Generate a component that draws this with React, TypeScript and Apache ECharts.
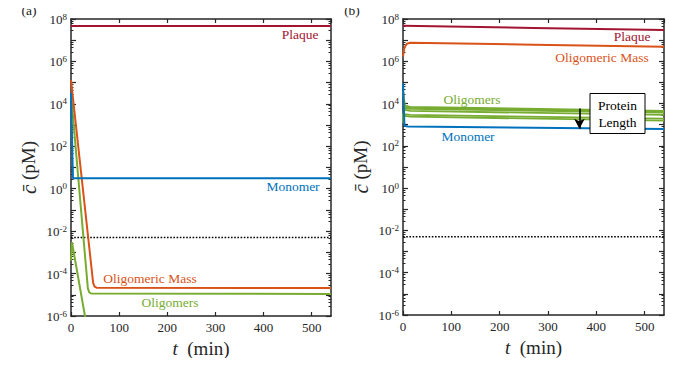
import React, { useEffect, useRef } from "react";
import * as echarts from "echarts";

// ---------- data (t in min, c in pM) ----------
// Panel (a)
const aPlaque: [number, number][] = [[0, 4.7e7], [540, 4.7e7]];
const aMonomer: [number, number][] = [[0, 3.2e4], [4, 3.1], [540, 3.1]];
const aOligoMass: [number, number][] = [[0, 1.3e5], [46, 3.6e-5], [49, 2.4e-5], [53, 2.15e-5], [540, 2.1e-5]];
const aOligomers1: [number, number][] = [[0, 3e4], [35, 2e-5], [38, 1.3e-5], [42, 1.15e-5], [540, 1.1e-5]];
const aOligomers2: [number, number][] = [[0, 4e-4], [2, 3e-3], [29, 1e-6], [33, 3e-7]];
const aThreshold: [number, number][] = [[0, 5e-3], [540, 5e-3]];

// Panel (b)
const bPlaque: [number, number][] = [[0, 4.8e7], [270, 3.8e7], [540, 3e7]];
const bOligoMass: [number, number][] = [[0, 1.7e6], [3, 4.5e6], [8, 6.8e6], [15, 7.5e6], [270, 6.1e6], [540, 4.9e6]];
const bMonomer: [number, number][] = [[0, 9e4], [3, 900], [10, 820], [270, 720], [540, 620]];
const bOligomers: [number, number][][] = [
  [[0, 4e4], [4, 8e3], [15, 7e3], [540, 4.5e3]],
  [[0, 2.5e3], [3, 7e3], [15, 6.3e3], [540, 4.1e3]],
  [[0, 2e3], [3, 6e3], [15, 5.6e3], [540, 3.7e3]],
  [[0, 1.8e3], [3, 5e3], [15, 4.5e3], [540, 2.9e3]],
  [[0, 1.5e3], [3, 3.2e3], [15, 2.9e3], [540, 1.95e3]],
  [[0, 1.2e3], [3, 2.6e3], [15, 2.4e3], [540, 1.55e3]],
];
const bThreshold: [number, number][] = [[0, 5e-3], [540, 5e-3]];
const arrowT = 365;
const arrowFrom = 5800;
const arrowTo = 640;

const xTicks = [0, 100, 200, 300, 400, 500];
const yMinExp = -6;
const yMaxExp = 8;

// ---------- styles ----------
const BLUE = "#0072BD";
const ORANGE = "#D95319";
const GREEN = "#77AC30";
const RED = "#A2142F";
const AXIS = "#262626";
const SERIF = "Liberation Serif";

export default function App() {
  const ref = useRef<HTMLDivElement>(null);
  useEffect(() => {
    if (!ref.current) return;
    const chart = echarts.init(ref.current, undefined, { renderer: "svg" });

    const grids = [
      { left: 71, right: 346, top: 19, bottom: 50 },
      { left: 403, right: 13, top: 19, bottom: 51 },
    ];

    const logLabel = (v: number) => {
      const e = Math.round(Math.log10(v));
      if (e % 2 !== 0) return "";
      return `{b|10}{s|${e}}`;
    };

    const xAxes: any[] = [];
    const yAxes: any[] = [];
    [0, 1].forEach((g) => {
      xAxes.push({
        type: "value",
        gridIndex: g,
        min: 0,
        max: 540,
        interval: 100,
        position: "bottom",
        name: "{i|t}  (min)",
        nameLocation: "middle",
        nameGap: 21,
        nameTextStyle: {
          fontFamily: SERIF,
          fontSize: 19,
          color: AXIS,
          rich: { i: { fontFamily: SERIF, fontSize: 19, fontStyle: "italic", color: AXIS } },
        },
        axisLine: { show: true, onZero: false, lineStyle: { color: AXIS, width: 1.5 } },
        axisTick: { show: true, inside: true, length: 4, lineStyle: { color: AXIS, width: 1.2 } },
        axisLabel: {
          show: true,
          fontFamily: SERIF,
          fontSize: 13,
          color: AXIS,
          margin: 5,
          showMaxLabel: false,
          formatter: (v: number) => (xTicks.includes(v) ? String(v) : ""),
        },
        splitLine: { show: false },
      });
      xAxes.push({
        type: "value",
        gridIndex: g,
        min: 0,
        max: 540,
        interval: 100,
        position: "top",
        axisLine: { show: true, onZero: false, lineStyle: { color: AXIS, width: 1.5 } },
        axisTick: { show: true, inside: true, length: 4, lineStyle: { color: AXIS, width: 1.2 } },
        axisLabel: { show: false },
        splitLine: { show: false },
      });
      const yCommon = {
        type: "log",
        logBase: 10,
        gridIndex: g,
        min: Math.pow(10, yMinExp),
        max: Math.pow(10, yMaxExp),
        interval: 1,
        splitNumber: 14,
        axisLine: { show: true, onZero: false, lineStyle: { color: AXIS, width: 1.5 } },
        axisTick: { show: true, inside: true, length: 5, lineStyle: { color: AXIS, width: 1.2 } },
        minorTick: { show: true, splitNumber: 5, length: 2.5, lineStyle: { color: AXIS, width: 1 } },
        splitLine: { show: false },
      };
      yAxes.push({
        ...yCommon,
        position: "left",
        name: "{i|c̄} (pM)",
        nameLocation: "middle",
        nameGap: 32,
        nameTextStyle: {
          fontFamily: SERIF,
          fontSize: 19,
          color: AXIS,
          rich: { i: { fontFamily: SERIF, fontSize: 21, fontStyle: "italic", color: AXIS } },
        },
        axisLabel: {
          show: true,
          margin: 4,
          formatter: logLabel,
          rich: {
            b: { fontFamily: SERIF, fontSize: 13, color: AXIS, lineHeight: 14, verticalAlign: "bottom" },
            s: { fontFamily: SERIF, fontSize: 9, color: AXIS, lineHeight: 10, verticalAlign: "top" },
          },
        },
      });
      yAxes.push({
        ...yCommon,
        position: "right",
        axisLabel: { show: false },
      });
    });

    const line = (g: number, data: [number, number][], color: string, extra: any = {}) => ({
      type: "line",
      xAxisIndex: g * 2,
      yAxisIndex: g * 2,
      data,
      showSymbol: false,
      symbol: "none",
      smooth: false,
      clip: true,
      lineStyle: { color, width: 2 },
      z: 3,
      ...extra,
    });
    const dotted = (g: number, data: [number, number][]) =>
      line(g, data, "#000", { lineStyle: { color: "#000", width: 1.6, type: [1.6, 1.6] }, z: 2 });

    const series: any[] = [
      dotted(0, aThreshold),
      line(0, aOligomers2, GREEN),
      line(0, aOligomers1, GREEN),
      line(0, aOligoMass, ORANGE),
      line(0, aMonomer, BLUE),
      line(0, aPlaque, RED),
      dotted(1, bThreshold),
      ...bOligomers.map((d) => line(1, d, GREEN, { lineStyle: { color: GREEN, width: 1.8 } })),
      line(1, bMonomer, BLUE),
      line(1, bOligoMass, ORANGE),
      line(1, bPlaque, RED, {
        markLine: {
          silent: true,
          symbol: ["none", "arrow"],
          symbolSize: [8, 10],
          label: { show: false },
          lineStyle: { color: "#000", width: 1.6, type: "solid" },
          data: [[{ coord: [arrowT, arrowFrom] }, { coord: [arrowT, arrowTo] }]],
          z: 10,
        },
      }),
    ];

    const txt = (x: number, y: number, text: string, color: string, size = 13.5) => ({
      type: "text",
      x,
      y,
      z: 50,
      style: {
        text,
        fill: color,
        fontFamily: SERIF,
        fontSize: size,
        align: "center",
        verticalAlign: "middle",
      },
    });

    chart.setOption({
      animation: false,
      backgroundColor: "#fff",
      grid: grids,
      xAxis: xAxes,
      yAxis: yAxes,
      series,
      graphic: [
        txt(29, 10, "(a)", "#222", 13.5),
        txt(352, 10, "(b)", "#222", 13.5),
        txt(300, 34, "Plaque", RED),
        txt(293, 186, "Monomer", BLUE),
        txt(150, 278, "Oligomeric Mass", ORANGE),
        txt(170, 302, "Oligomers", GREEN),
        txt(632, 36, "Plaque", RED),
        txt(602, 57, "Oligomeric Mass", ORANGE),
        txt(472, 99, "Oligomers", GREEN),
        txt(468, 136, "Monomer", BLUE),
        {
          type: "rect",
          z: 60,
          shape: { x: 590, y: 93.5, width: 55, height: 40 },
          style: { fill: "#fff", stroke: "#000", lineWidth: 1 },
        },
        {
          type: "text",
          z: 61,
          x: 617.5,
          y: 113.5,
          style: {
            text: "Protein\nLength",
            fill: "#000",
            fontFamily: SERIF,
            fontSize: 13.5,
            lineHeight: 17,
            align: "center",
            verticalAlign: "middle",
          },
        },
      ],
    });
    return () => chart.dispose();
  }, []);
  return <div ref={ref} style={{ width: 677, height: 366, margin: -8 }} />;
}
